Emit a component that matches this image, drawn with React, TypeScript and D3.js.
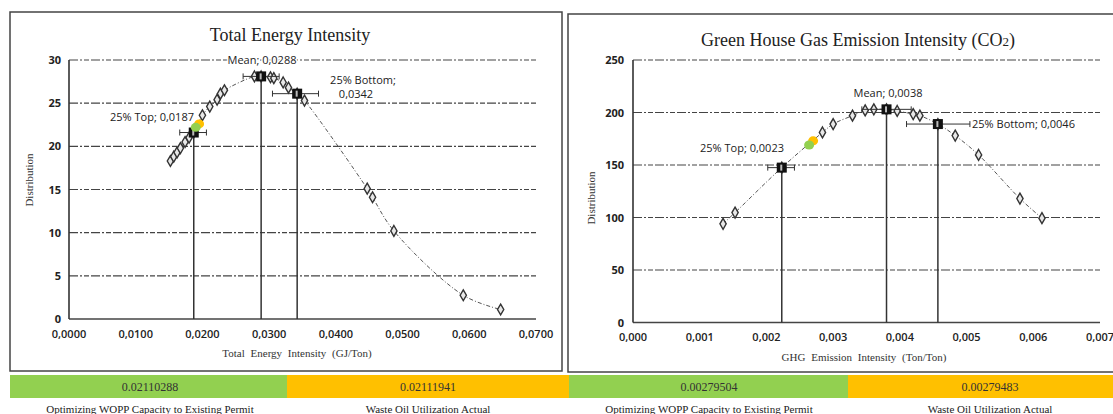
import React from "react";
import * as d3 from "d3";

// ---------- Data: Total Energy Intensity ----------
const energyCurveX = [0.0152, 0.0157, 0.0162, 0.0167, 0.0174, 0.018, 0.0187, 0.02, 0.0211, 0.0222, 0.0227, 0.0233, 0.0278, 0.0288, 0.0302, 0.0307, 0.0321, 0.0329, 0.0342, 0.0353, 0.0447, 0.0455, 0.0487, 0.0591, 0.0647];
const energyCurveY = [18.3, 18.8, 19.3, 19.8, 20.5, 21.0, 21.6, 23.6, 24.6, 25.4, 26.1, 26.5, 28.1, 28.1, 28.0, 27.9, 27.4, 26.8, 26.1, 25.3, 15.1, 14.1, 10.2, 2.75, 1.1];
const energyQuartileX = [0.0187, 0.0288, 0.0342];
const energyQuartileY = [21.6, 28.1, 26.1];
const energyErrLo = [0.0166, 0.0261, 0.0305];
const energyErrHi = [0.0206, 0.0315, 0.0374];
const energyLabels = ["25% Top; 0,0187", "Mean; 0,0288", "25% Bottom;", "0,0342"];
const energyDotX = [0.019, 0.0195];
const energyDotY = [22.2, 22.6];
const energyYTicks = [0, 5, 10, 15, 20, 25, 30];
const energyXTicks = [0, 0.01, 0.02, 0.03, 0.04, 0.05, 0.06, 0.07];
const energyCompare = ["0.02110288", "0.02111941"];

// ---------- Data: GHG Emission Intensity ----------
const ghgCurveX = [0.00135, 0.00153, 0.00223, 0.00284, 0.003, 0.00329, 0.00348, 0.00361, 0.0038, 0.00396, 0.0042, 0.0043, 0.00457, 0.00483, 0.00518, 0.0058, 0.00613];
const ghgCurveY = [94, 104.7, 147.5, 181, 189, 197, 202, 203, 203, 201.5, 198.5, 197, 189, 178, 159.6, 118, 99.4];
const ghgQuartileX = [0.00223, 0.0038, 0.00457];
const ghgQuartileY = [147.5, 203, 189];
const ghgErrLo = [0.00202, 0.00343, 0.0041];
const ghgErrHi = [0.00242, 0.00417, 0.00505];
const ghgLabels = ["25% Top; 0,0023", "Mean; 0,0038", "25% Bottom; 0,0046"];
const ghgDotX = [0.00264, 0.0027];
const ghgDotY = [169, 173];
const ghgYTicks = [0, 50, 100, 150, 200, 250];
const ghgXTicks = [0, 0.001, 0.002, 0.003, 0.004, 0.005, 0.006, 0.007];
const ghgCompare = ["0.00279504", "0.00279483"];

const compareNames = ["Optimizing WOPP Capacity to Existing Permit", "Waste Oil Utilization Actual"];

const GREEN = "#92D050";
const ORANGE = "#FFC000";
const SANS = "'Open Sans', 'Liberation Sans', sans-serif";
const SERIF = "'Liberation Serif', 'DejaVu Serif', serif";

type PanelProps = {
  title: React.ReactNode;
  titleX: number;
  titleY: number;
  xTitle: string;
  xTitleX: number;
  xTitleY: number;
  yTitleX: number;
  yTitleY: number;
  xRange: [number, number];
  yRange: [number, number];
  xDomain: [number, number];
  yDomain: [number, number];
  xTicks: number[];
  yTicks: number[];
  xFmt: (v: number) => string;
  yLabelX: number;
  xLabelY: number;
  curveX: number[];
  curveY: number[];
  qX: number[];
  qY: number[];
  errLo: number[];
  errHi: number[];
  dotX: number[];
  dotY: number[];
  labels: { text: string; x: number; y: number; anchor?: string }[];
};

function Panel(p: PanelProps) {
  const x = d3.scaleLinear().domain(p.xDomain).range(p.xRange);
  const y = d3.scaleLinear().domain(p.yDomain).range(p.yRange);
  const pts: [number, number][] = p.curveX.map((v, i) => [x(v), y(p.curveY[i])]);
  const line = d3.line().curve(d3.curveCatmullRom.alpha(0.5))(pts) || "";
  const diamond = d3.symbol().type(d3.symbolDiamond).size(34)() || "";
  const x0 = p.xRange[0];
  const x1 = p.xRange[1];
  const yb = y(p.yDomain[0]);
  return (
    <g>
      <text x={p.titleX} y={p.titleY} textAnchor="middle" fontFamily={SERIF} fontSize={18} fill="#222">
        {p.title}
      </text>
      {p.yTicks.map((t) => (
        <line
          key={"g" + t}
          x1={x0}
          x2={x1}
          y1={y(t)}
          y2={y(t)}
          stroke="#444"
          strokeWidth={t === p.yDomain[0] ? 1.6 : 1.2}
          strokeDasharray={t === p.yDomain[0] ? "none" : "9,2,2,2,5,2"}
        />
      ))}
      <line x1={x0} x2={x0} y1={y(p.yDomain[1])} y2={yb} stroke="#333" strokeWidth={1.6} />
      {p.yTicks.map((t) => (
        <text key={"yl" + t} x={p.yLabelX} y={y(t) + 4} textAnchor="end" fontFamily={SANS} fontWeight={700} fontSize={11} fill="#222">
          {t}
        </text>
      ))}
      {p.xTicks.map((t) => (
        <text key={"xl" + t} x={x(t)} y={p.xLabelY} textAnchor="middle" fontFamily={SANS} fontWeight={600} fontSize={11} fill="#222">
          {p.xFmt(t)}
        </text>
      ))}
      <text x={p.xTitleX} y={p.xTitleY} textAnchor="middle" fontFamily={SERIF} fontSize={11} wordSpacing={3} fill="#333">
        {p.xTitle}
      </text>
      <text
        transform={`translate(${p.yTitleX},${p.yTitleY}) rotate(-90)`}
        textAnchor="middle"
        fontFamily={SERIF}
        fontSize={11}
        fill="#333"
      >
        Distribution
      </text>
      {p.qX.map((v, i) => (
        <line key={"v" + i} x1={x(v)} x2={x(v)} y1={y(p.qY[i])} y2={yb} stroke="#333" strokeWidth={1.5} />
      ))}
      <path d={line} fill="none" stroke="#555" strokeWidth={1} strokeDasharray="4,2,1,2" />
      {pts.map(([px, py], i) => (
        <path key={"p" + i} d={diamond} transform={`translate(${px},${py})`} fill="#e8e8e8" stroke="#333" strokeWidth={1.4} />
      ))}
      {p.qX.map((v, i) => {
        const yy = y(p.qY[i]);
        return (
          <g key={"e" + i} stroke="#333" strokeWidth={1}>
            <line x1={x(p.errLo[i])} x2={x(p.errHi[i])} y1={yy} y2={yy} />
            <line x1={x(p.errLo[i])} x2={x(p.errLo[i])} y1={yy - 3} y2={yy + 3} />
            <line x1={x(p.errHi[i])} x2={x(p.errHi[i])} y1={yy - 3} y2={yy + 3} />
          </g>
        );
      })}
      {p.qX.map((v, i) => (
        <g key={"q" + i} transform={`translate(${x(v)},${y(p.qY[i])})`}>
          <rect x={-5} y={-5} width={10} height={10} fill="#111" />
          <rect x={-1.5} y={-3} width={2} height={6} fill="#bbb" />
        </g>
      ))}
      <ellipse cx={x(p.dotX[1])} cy={y(p.dotY[1])} rx={5} ry={4.5} fill={ORANGE} />
      <ellipse cx={x(p.dotX[0])} cy={y(p.dotY[0])} rx={5} ry={4.5} fill={GREEN} />
      {p.labels.map((l, i) => (
        <text
          key={"lb" + i}
          x={l.x}
          y={l.y}
          textAnchor={(l.anchor as any) || "middle"}
          fontFamily={SANS}
          fontSize={11}
          fontWeight={500}
          fill="#222"
          stroke="#fff"
          strokeWidth={3}
          paintOrder="stroke"
        >
          {l.text}
        </text>
      ))}
    </g>
  );
}

function CompareBar({ x0, xm, x1, values, names, c1, c2 }: any) {
  return (
    <g>
      <rect x={x0} y={375} width={xm - x0} height={23} fill={GREEN} />
      <rect x={xm} y={375} width={x1 - xm} height={23} fill={ORANGE} />
      <text x={c1} y={390.5} textAnchor="middle" fontFamily={SERIF} fontSize={12} fill="#333">
        {values[0]}
      </text>
      <text x={c2} y={390.5} textAnchor="middle" fontFamily={SERIF} fontSize={12} fill="#333">
        {values[1]}
      </text>
      <text x={c1} y={413} textAnchor="middle" fontFamily={SERIF} fontSize={11} fill="#222">
        {names[0]}
      </text>
      <text x={c2} y={413} textAnchor="middle" fontFamily={SERIF} fontSize={11} fill="#222">
        {names[1]}
      </text>
    </g>
  );
}

export default function App() {
  const fmt4 = (v: number) => v.toFixed(4).replace(".", ",");
  const fmt3 = (v: number) => v.toFixed(3).replace(".", ",");
  return (
    <svg width={1113} height={414} style={{ position: "absolute", left: 0, top: 0, background: "#fff" }}>
      <rect x={0} y={0} width={1113} height={414} fill="#fff" />
      <rect x={10} y={12} width={552} height={359} fill="none" stroke="#444" strokeWidth={1.5} />
      <rect x={568} y={14} width={560} height={358} fill="none" stroke="#444" strokeWidth={1.5} />
      <Panel
        title="Total Energy Intensity"
        titleX={290}
        titleY={41}
        xTitle="Total Energy Intensity (GJ/Ton)"
        xTitleX={297}
        xTitleY={357}
        yTitleX={33}
        yTitleY={180}
        xRange={[69, 536]}
        yRange={[319, 60]}
        xDomain={[0, 0.07]}
        yDomain={[0, 30]}
        xTicks={energyXTicks}
        yTicks={energyYTicks}
        xFmt={fmt4}
        yLabelX={61}
        xLabelY={338}
        curveX={energyCurveX}
        curveY={energyCurveY}
        qX={energyQuartileX}
        qY={energyQuartileY}
        errLo={energyErrLo}
        errHi={energyErrHi}
        dotX={energyDotX}
        dotY={energyDotY}
        labels={[
          { text: energyLabels[0], x: 152, y: 121 },
          { text: energyLabels[1], x: 262, y: 64 },
          { text: energyLabels[2], x: 363, y: 84 },
          { text: energyLabels[3], x: 356, y: 98 },
        ]}
      />
      <Panel
        title={
          <>
            Green House Gas Emission Intensity (CO
            <tspan fontSize={13}>2</tspan>)
          </>
        }
        titleX={858}
        titleY={46}
        xTitle="GHG Emission Intensity (Ton/Ton)"
        xTitleX={864}
        xTitleY={361}
        yTitleX={595}
        yTitleY={198}
        xRange={[633, 1100]}
        yRange={[322.5, 60]}
        xDomain={[0, 0.007]}
        yDomain={[0, 250]}
        xTicks={ghgXTicks}
        yTicks={ghgYTicks}
        xFmt={fmt3}
        yLabelX={624}
        xLabelY={341}
        curveX={ghgCurveX}
        curveY={ghgCurveY}
        qX={ghgQuartileX}
        qY={ghgQuartileY}
        errLo={ghgErrLo}
        errHi={ghgErrHi}
        dotX={ghgDotX}
        dotY={ghgDotY}
        labels={[
          { text: ghgLabels[0], x: 742, y: 152 },
          { text: ghgLabels[1], x: 888, y: 97 },
          { text: ghgLabels[2], x: 972, y: 128, anchor: "start" },
        ]}
      />
      <rect x={560} y={375} width={9} height={23} fill={ORANGE} />
      <CompareBar x0={10} xm={287} x1={560} values={energyCompare} names={compareNames} c1={150} c2={428} />
      <CompareBar x0={569} xm={848} x1={1113} values={ghgCompare} names={compareNames} c1={709} c2={990} />
    </svg>
  );
}
